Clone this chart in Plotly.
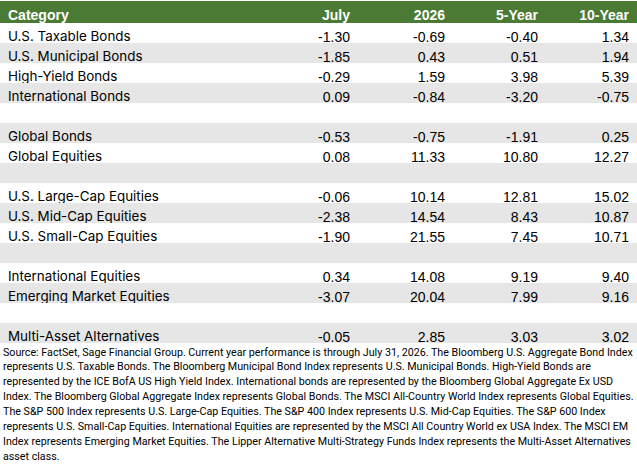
import plotly.graph_objects as go

categories = ["U.S. Taxable Bonds", "U.S. Municipal Bonds", "High-Yield Bonds", "International Bonds", "",
              "Global Bonds", "Global Equities", "",
              "U.S. Large-Cap Equities", "U.S. Mid-Cap Equities", "U.S. Small-Cap Equities", "",
              "International Equities", "Emerging Market Equities", "",
              "Multi-Asset Alternatives"]
july = [-1.30, -1.85, -0.29, 0.09, None, -0.53, 0.08, None, -0.06, -2.38, -1.90, None, 0.34, -3.07, None, -0.05]
ytd_2026 = [-0.69, 0.43, 1.59, -0.84, None, -0.75, 11.33, None, 10.14, 14.54, 21.55, None, 14.08, 20.04, None, 2.85]
five_year = [-0.40, 0.51, 3.98, -3.20, None, -1.91, 10.80, None, 12.81, 8.43, 7.45, None, 9.19, 7.99, None, 3.03]
ten_year = [1.34, 1.94, 5.39, -0.75, None, 0.25, 12.27, None, 15.02, 10.87, 10.71, None, 9.40, 9.16, None, 3.02]
headers = ["Category", "July", "2026", "5-Year", "10-Year"]

footnote_lines = [
    "Source: FactSet, Sage Financial Group. Current year performance is through July 31, 2026. The Bloomberg U.S. Aggregate Bond Index",
    "represents U.S. Taxable Bonds. The Bloomberg Municipal Bond Index represents U.S. Municipal Bonds. High-Yield Bonds are",
    "represented by the ICE BofA US High Yield Index. International bonds are represented by the Bloomberg Global Aggregate Ex USD",
    "Index. The Bloomberg Global Aggregate Index represents Global Bonds. The MSCI All-Country World Index represents Global Equities.",
    "The S&P 500 Index represents U.S. Large-Cap Equities. The S&P 400 Index represents U.S. Mid-Cap Equities. The S&P 600 Index",
    "represents U.S. Small-Cap Equities. International Equities are represented by the MSCI All Country World ex USA Index. The MSCI EM",
    "Index represents Emerging Market Equities. The Lipper Alternative Multi-Strategy Funds Index represents the Multi-Asset Alternatives",
    "asset class.",
]

def fmt(vals):
    return ["" if v is None else f"{v:.2f}" for v in vals]

n = len(categories)
row_fill = ["#ffffff" if i % 2 == 0 else "#e6e6e6" for i in range(n)]
GREEN = "#4a7a34"
NUM_FONT = "Liberation Sans, Arial"
TXT_FONT = "Inter"
NOTE_FONT = "Roboto"

W, H = 637, 472
TOP = 1
HEADER_H = 22
ROW_H = 20
table_bottom = TOP + HEADER_H + ROW_H * n
NOTE_FIRST = table_bottom + 9   # centre of first footnote line, px from top
NOTE_STEP = 14.9                # footnote line pitch, px

fig = go.Figure(go.Table(
    columnwidth=[264, 94, 95, 93, 91],
    header=dict(
        values=headers,
        fill_color=GREEN,
        line=dict(color=GREEN, width=0),
        font=dict(family=NUM_FONT, size=14, color="white", weight="bold"),
        align=["left", "right", "right", "right", "right"],
        height=HEADER_H,
    ),
    cells=dict(
        values=[categories, fmt(july), fmt(ytd_2026), fmt(five_year), fmt(ten_year)],
        fill_color=[row_fill] * 5,
        line=dict(color=[row_fill] * 5, width=0),
        font=dict(family=[TXT_FONT, NUM_FONT, NUM_FONT, NUM_FONT, NUM_FONT], size=[13.4, 14, 14, 14, 14],
                  color="black"),
        align=["left", "right", "right", "right", "right"],
        height=ROW_H,
    ),
    domain=dict(x=[0, 1], y=[1 - (table_bottom + 2) / H, 1 - TOP / H]),
))

for i, ln in enumerate(footnote_lines):
    fig.add_annotation(
        text=ln.replace("&", "&amp;"),
        xref="paper", yref="paper", x=0, y=1 - (NOTE_FIRST + i * NOTE_STEP) / H,
        xanchor="left", yanchor="middle", xshift=1, align="left", showarrow=False,
        font=dict(family=NOTE_FONT, size=10.7, color="black"),
    )

fig.update_layout(width=W, height=H, margin=dict(l=0, r=0, t=0, b=0),
                  paper_bgcolor="white", plot_bgcolor="white")
fig.write_html("out.html", config={"displayModeBar": False},
               post_script="document.body.style.margin='0';")
